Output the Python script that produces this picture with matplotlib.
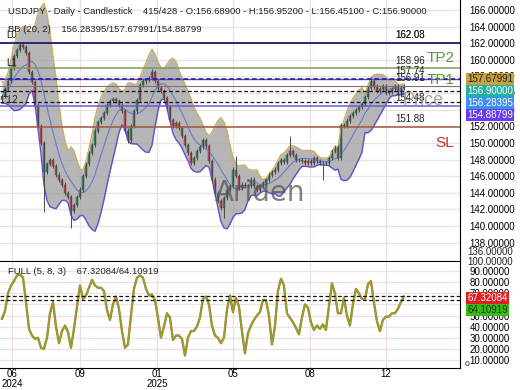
import numpy as np
import pandas as pd
import matplotlib
matplotlib.use("Agg")
import matplotlib.pyplot as plt

plt.rcParams['font.family'] = ['Liberation Sans', 'DejaVu Sans']

# closes, roughly every 3rd trading day
closes = [155.6, 156.5, 157.5, 159.0, 160.5, 161.2, 161.8, 161.5, 160.8, 158.5,
          157.3, 154.5, 152.0, 150.0, 146.5, 147.5, 148.0, 147.2, 146.2, 145.5,
          145.0, 144.0, 143.5, 141.8, 142.5, 143.5, 144.4, 146.0, 147.5, 148.8,
          149.8, 151.5, 152.5, 153.0, 153.6, 154.6, 155.0, 155.3, 155.0, 154.6,
          153.8, 151.5, 150.3, 152.0, 153.8, 155.2, 157.0, 157.4, 157.6, 157.8,
          158.5, 157.5, 156.6, 156.3, 155.4, 154.3, 152.8, 152.0, 152.4, 151.8,
          150.8, 149.8, 148.8, 147.6, 148.2, 149.0, 149.5, 150.3, 149.6, 147.8,
          145.6, 144.0, 143.0, 142.2, 143.4, 144.4, 144.8, 146.8, 146.0, 144.6,
          145.0, 144.8, 144.8, 145.6, 144.8, 144.4, 144.8, 145.2, 145.5, 146.2,
          146.5, 146.8, 147.6, 148.0, 147.7, 148.6, 149.0, 148.6, 148.0, 148.0,
          147.8, 147.6, 147.8, 147.6, 148.2, 147.8, 147.6, 147.6, 147.6, 148.2,
          149.0, 149.5, 148.2, 152.2, 152.0, 152.7, 153.2, 153.6, 154.0, 154.3,
          154.7, 155.5, 156.6, 157.5, 156.8, 156.3, 156.5, 156.8, 156.0, 156.1,
          156.5, 156.8, 156.1, 156.6, 156.9]
# long wicks that stand out
wick_lows = {14: 141.7, 23: 139.8, 74: 141.0, 107: 145.5}
wick_highs = {6: 162.0, 50: 158.9, 78: 148.4, 96: 150.8, 123: 157.9}

stoch_k = [47, 54, 70, 77, 81, 86, 87, 84, 62, 38,
           32, 29, 30, 21, 20, 30, 52, 62, 40, 25,
           36, 41, 35, 21, 38, 58, 77, 65, 68, 75,
           82, 77, 75, 75, 72, 55, 46, 60, 67, 56,
           36, 21, 24, 50, 74, 84, 86, 84, 74, 68,
           69, 64, 48, 30, 40, 52, 48, 28, 32, 32,
           29, 14, 30, 36, 36, 40, 48, 65, 67, 60,
           41, 32, 30, 25, 30, 55, 68, 53, 66, 58,
           36, 16, 34, 41, 46, 50, 53, 64, 64, 50,
           24, 40, 72, 83, 77, 52, 48, 44, 39, 33,
           48, 60, 57, 44, 37, 41, 38, 42, 37, 58,
           79, 70, 52, 52, 66, 50, 41, 60, 74, 70,
           65, 64, 78, 81, 62, 45, 36, 46, 49, 49,
           52, 52, 56, 62, 67]

month_labels = ["06\n2024", "09", "01\n2025", "05", "08", "12"]
month_pos = [3.3, 26, 51.7, 77, 102.7, 128]

levels = [162.08, 158.96, 157.74, 156.91, 154.48, 151.88]
bb_last = [156.28395, 157.67991, 154.88799]
stoch_last = [67.32084, 64.10919]

closes = np.array(closes)
opens = np.r_[closes[0] - 0.4, closes[:-1]]
highs = np.maximum(opens, closes) + 0.25
lows = np.minimum(opens, closes) - 0.25
for k, v in wick_lows.items():
    lows[k] = v
for k, v in wick_highs.items():
    highs[k] = v
x = np.arange(len(closes))

# bollinger bands on the sampled closes
s = pd.Series(closes)
mid = s.rolling(9, min_periods=2).mean().bfill()
sd = s.rolling(9, min_periods=2).std().bfill()
upper = mid + 2 * sd
lower = mid - 2 * sd

fig = plt.figure(figsize=(5.2, 3.9), dpi=100)
ax = fig.add_axes([0, 1 - 261 / 390, 460 / 520, 261 / 390])
ax2 = fig.add_axes([0, 1 - 368 / 390, 460 / 520, 106 / 390])

grid_c = '#eddfe3'
for a in (ax, ax2):
    a.set_facecolor('white')
    a.set_xlim(-0.67, 152.7)
    a.set_xticks(month_pos)
    a.grid(True, color=grid_c, lw=0.9)
    a.set_axisbelow(True)
    a.spines['left'].set_visible(False)
    a.spines['top'].set_visible(False)
    a.yaxis.tick_right()
    a.tick_params(length=0, labelsize=7, pad=7)

# main panel
ticks = np.arange(138, 167, 2)
ax.set_ylim(135.8, 167.2)
ax.set_yticks(ticks)
ax.set_yticklabels(['%.5f' % v for v in ticks])
ax.set_xticklabels([])
fig.text(467 / 520, 1 - 252 / 390, '136.00000', fontsize=7, color='#222222',
         va='center')

ax.fill_between(x, lower, upper, color='#a4a4a4', alpha=0.8, lw=0)
ax.plot(x, upper, color='#c8b060', lw=1.0)
ax.plot(x, lower, color='#6050d0', lw=1.0)
ax.plot(x, mid, color='#6a78d0', lw=0.8)

up = closes >= opens
ax.vlines(x, lows, highs, color='#4a4a4a', lw=0.7)
ax.bar(x[up], (closes - opens)[up], bottom=opens[up], width=0.6,
       color='#3c8a64', edgecolor='#3a4a40', lw=0.3)
ax.bar(x[~up], (opens - closes)[~up], bottom=closes[~up], width=0.6,
       color='#c04858', edgecolor='#5a3a3a', lw=0.3)

ax.axhline(levels[0], color='#1c1c60', lw=1.3)
ax.axhline(levels[1], color='#7c9c5c', lw=1.1)
ax.axhline(bb_last[1], color='#5a4ad0', lw=1.0)
ax.axhline(levels[2], color='#1a1a90', lw=1.1, ls=(0, (3, 2)))
ax.axhline(levels[3], color='#8a6a6a', lw=0.8)
ax.axhline(bb_last[0], color='#111111', lw=0.9, ls=(0, (3, 2)))
ax.axhline(bb_last[2], color='#111111', lw=0.9, ls=(0, (3, 2)))
ax.axhline(levels[4], color='#6a5ad8', lw=1.1)
ax.axhline(levels[5], color='#a0583a', lw=1.1)

for v in levels:
    ax.text(131, v + 0.35, '%.2f' % v, fontsize=7, color='#222222',
            va='bottom', ha='left')
ax.text(131, levels[0] + 0.35, '162.03', fontsize=7, color='#222222',
        va='bottom', ha='left')

ax.text(141.5, levels[1] + 0.45, 'TP2', fontsize=11, color='#5a9a3a', va='bottom')
ax.text(141.5, levels[2] - 1.05, 'TP1', fontsize=11, color='#5a9a3a', va='bottom')
ax.text(133.5, levels[4] - 0.45, 'Price', fontsize=13, color='#909090',
        alpha=0.8, va='bottom')
ax.text(144.5, 149.2, 'SL', fontsize=11, color='#c0302a', va='bottom')

ax.text(1.5, levels[0] + 0.35, 'L0', fontsize=7, color='#222222', va='bottom')
ax.text(1.5, levels[1] + 0.1, 'L1', fontsize=7, color='#222222', va='bottom')
ax.text(1.8, levels[4] + 0.1, 'L2', fontsize=7, color='#222222', va='bottom')
ax.text(0.0, 155.3, '1', fontsize=7, color='#222222', va='bottom')

ax.text(0.565, 0.26, 'Ariden', transform=ax.transAxes, fontsize=20,
        family='DejaVu Sans', color='#555555', alpha=0.75, ha='center', va='center')

fig.text(8 / 520, 1 - 12 / 390,
         'USDJPY - Daily - Candlestick    415/428 - O:156.68900 - H:156.95200'
         ' - L:156.45100 - C:156.90000', fontsize=6.8, color='#222222', va='center')
fig.text(8 / 520, 1 - 30 / 390, 'BB (20, 2)    %.5f/%.5f/%.5f' % tuple(bb_last),
         fontsize=6.8, color='#222222', va='center')

# value boxes on the price scale
boxes = [('%.5f' % bb_last[1], 79, '#c8a040', '#222222'),
         ('156.90000', 91, '#22b0a0', 'white'),
         ('%.5f' % bb_last[0], 103, '#3a90f0', 'white'),
         ('%.5f' % bb_last[2], 115, '#6a3af0', 'white')]
for txt, yp, bg, fg in boxes:
    fig.text(467 / 520, 1 - yp / 390, txt, fontsize=7, color=fg, va='center',
             bbox=dict(boxstyle='square,pad=0.15', fc=bg, ec='none'))

# stochastic panel
ax2.set_ylim(2.8, 98.1)
ax2.set_yticks(np.arange(10, 100, 10))
ax2.set_yticklabels(['%.5f' % v for v in np.arange(10, 100, 10)])
ax2.set_xticklabels(month_labels, linespacing=0.95)
ax2.tick_params(axis='x', pad=1)
xs = np.arange(len(stoch_k))
ax2.plot(xs, stoch_k, color='#b87a30', lw=1.7)
ax2.plot(xs, stoch_k, color='#8aa432', lw=1.1)
for v in stoch_last:
    ax2.axhline(v, color='#111111', lw=0.9, ls=(0, (3, 2)))
fig.text(467 / 520, 1 - 262 / 390, '100.00000', fontsize=7, color='#222222',
         va='center', zorder=0)
fig.text(465 / 520, 1 - 365 / 390, '0', fontsize=6, color='#222222', va='center')
fig.text(8 / 520, 1 - 272 / 390, 'FULL (5, 8, 3)    %.5f/%.5f' % tuple(stoch_last),
         fontsize=6.8, color='#222222', va='center')
fig.text(467 / 520, 1 - 298 / 390, '%.5f' % stoch_last[0], fontsize=7, color='white',
         va='center', bbox=dict(boxstyle='square,pad=0.15', fc='#e02020', ec='none'))
fig.text(467 / 520, 1 - 310 / 390, '%.5f' % stoch_last[1], fontsize=7, color='#1a3a0a',
         va='center', bbox=dict(boxstyle='square,pad=0.15', fc='#3ab81a', ec='none'))

fig.savefig('out.png', dpi=100)
